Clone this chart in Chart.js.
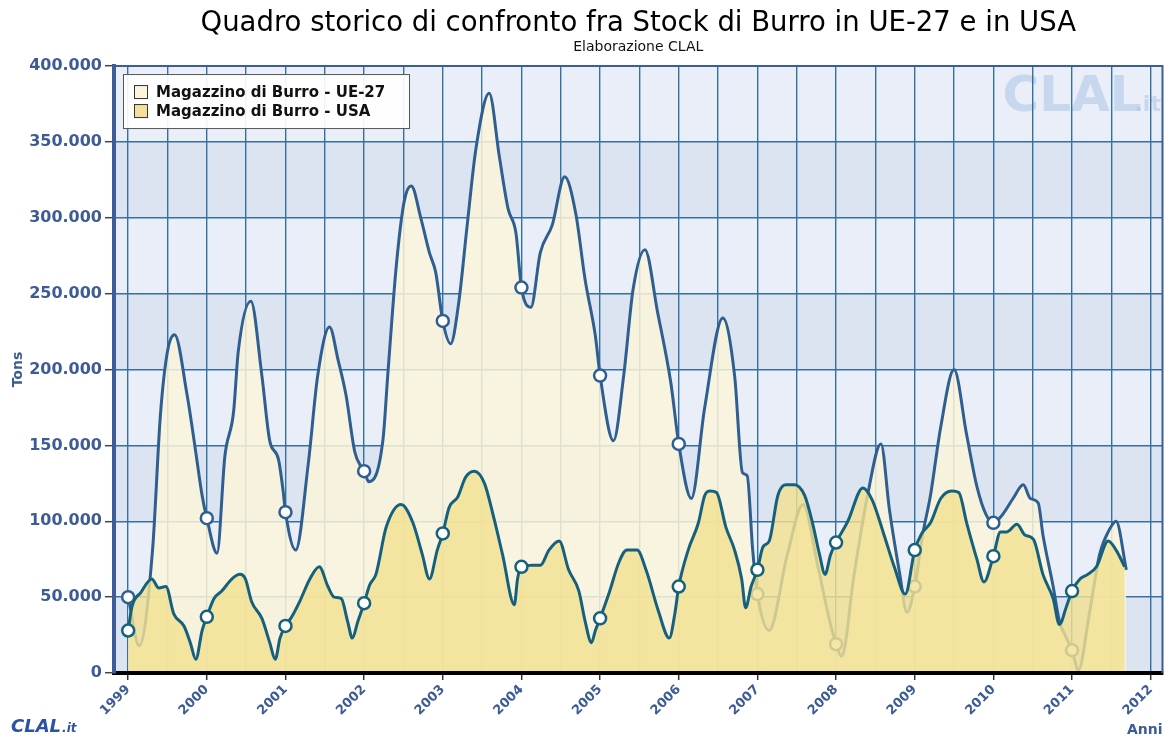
<!DOCTYPE html>
<html>
<head>
<meta charset="utf-8">
<script src="https://cdn.jsdelivr.net/npm/chart.js@4.4.1/dist/chart.umd.min.js"></script>
<style>
html,body{margin:0;padding:0;background:#ffffff;}
#wrap{width:1171px;height:739px;position:relative;}
</style>
</head>
<body>
<div id="wrap"><canvas id="c"></canvas></div>
<script>
const chartTitle = 'Quadro storico di confronto fra Stock di Burro in UE-27 e in USA';
const chartSubtitle = 'Elaborazione CLAL';
const seriesNames = ['Magazzino di Burro - UE-27', 'Magazzino di Burro - USA'];
const yAxisTitle = 'Tons';
const xAxisTitle = 'Anni';
const yearTicks = [1999, 2000, 2001, 2002, 2003, 2004, 2005, 2006, 2007, 2008, 2009, 2010, 2011, 2012];
const valueTicks = [0, 50000, 100000, 150000, 200000, 250000, 300000, 350000, 400000];

// UE-27 butter stocks (tons) at decimal-year positions
const ueDates = [
  1999.00, 1999.14, 1999.31, 1999.41, 1999.50, 1999.59, 1999.75, 1999.85, 1999.94,
  2000.00, 2000.13, 2000.23, 2000.34, 2000.40, 2000.56, 2000.70, 2000.80, 2000.91, 2000.97,
  2001.00, 2001.13, 2001.29, 2001.41, 2001.56, 2001.67, 2001.77, 2001.88, 2001.96,
  2002.00, 2002.06, 2002.24, 2002.30, 2002.41, 2002.51, 2002.60, 2002.72, 2002.83, 2002.91,
  2003.00, 2003.10, 2003.20, 2003.31, 2003.42, 2003.59, 2003.72, 2003.83, 2003.93,
  2004.00, 2004.12, 2004.24, 2004.39, 2004.55, 2004.69, 2004.81, 2004.94,
  2005.00, 2005.17, 2005.30, 2005.42, 2005.57, 2005.73, 2005.90,
  2006.00, 2006.16, 2006.33, 2006.56, 2006.71, 2006.81, 2006.87, 2006.94,
  2007.00, 2007.15, 2007.38, 2007.58, 2007.77, 2007.92,
  2008.00, 2008.07, 2008.23, 2008.40, 2008.57, 2008.68, 2008.81, 2008.90,
  2009.00, 2009.10, 2009.20, 2009.33, 2009.50, 2009.66, 2009.79, 2009.91,
  2010.00, 2010.11, 2010.25, 2010.38, 2010.47, 2010.57, 2010.63, 2010.76, 2010.84, 2010.93,
  2011.00, 2011.08, 2011.22, 2011.35, 2011.48, 2011.56, 2011.69
];
const ueStock = [
  50000, 18000, 81000, 170000, 212000, 223000, 183000, 149000, 117000,
  102000, 79000, 143000, 172000, 212000, 245000, 196000, 153000, 141000, 120000,
  106000, 81000, 138000, 196000, 228000, 206000, 183000, 146000, 136000,
  133000, 126000, 154000, 196000, 269000, 311000, 321000, 300000, 277000, 264000,
  232000, 217000, 243000, 295000, 345000, 382000, 340000, 306000, 290000,
  254000, 241000, 277000, 295000, 327000, 303000, 259000, 222000,
  196000, 153000, 196000, 253000, 279000, 238000, 191000,
  151000, 115000, 175000, 234000, 196000, 132000, 130000, 81000,
  52000, 28000, 78000, 111000, 70000, 34000,
  19000, 11000, 65000, 117000, 151000, 107000, 65000, 40000,
  57000, 91000, 117000, 162000, 200000, 157000, 123000, 104000,
  99000, 104000, 115000, 124000, 115000, 112000, 91000, 57000, 34000, 23000,
  15000, 2000, 39000, 78000, 95000, 100000, 68000
];

// USA butter stocks (tons)
const usaDates = [
  1999.00, 1999.05, 1999.16, 1999.30, 1999.39, 1999.48, 1999.58, 1999.71, 1999.79, 1999.86, 1999.94,
  2000.00, 2000.09, 2000.19, 2000.32, 2000.42, 2000.49, 2000.57, 2000.70, 2000.80, 2000.87, 2000.93,
  2001.00, 2001.08, 2001.18, 2001.31, 2001.43, 2001.54, 2001.62, 2001.71, 2001.79, 2001.85, 2001.92,
  2002.00, 2002.07, 2002.15, 2002.28, 2002.47, 2002.62, 2002.74, 2002.83, 2002.93,
  2003.00, 2003.08, 2003.19, 2003.29, 2003.40, 2003.53, 2003.65, 2003.76, 2003.91, 2003.95,
  2004.00, 2004.14, 2004.24, 2004.35, 2004.48, 2004.60, 2004.73, 2004.81, 2004.89, 2004.94,
  2005.00, 2005.11, 2005.24, 2005.34, 2005.47, 2005.59, 2005.74, 2005.88, 2005.95,
  2006.00, 2006.12, 2006.25, 2006.33, 2006.40, 2006.48, 2006.60, 2006.71, 2006.80, 2006.85, 2006.92,
  2007.00, 2007.07, 2007.15, 2007.26, 2007.36, 2007.47, 2007.60, 2007.70, 2007.79, 2007.86, 2007.93,
  2008.00, 2008.15, 2008.34, 2008.46, 2008.61, 2008.74, 2008.88,
  2009.00, 2009.09, 2009.20, 2009.33, 2009.47, 2009.56, 2009.66, 2009.79, 2009.88,
  2010.00, 2010.09, 2010.17, 2010.30, 2010.40, 2010.51, 2010.63, 2010.76, 2010.84, 2010.93,
  2011.00, 2011.10, 2011.20, 2011.31, 2011.46, 2011.56, 2011.67
];
const usaStock = [
  28000, 44000, 53000, 62000, 56000, 57000, 39000, 31000, 20000, 9000, 28000,
  37000, 49000, 54000, 62000, 65000, 62000, 47000, 36000, 20000, 9000, 23000,
  31000, 37000, 47000, 62000, 70000, 57000, 50000, 49000, 34000, 23000, 34000,
  46000, 58000, 65000, 96000, 111000, 99000, 78000, 62000, 81000,
  92000, 109000, 116000, 129000, 133000, 125000, 102000, 78000, 45000, 62000,
  70000, 71000, 71000, 81000, 87000, 68000, 54000, 34000, 20000, 28000,
  36000, 52000, 73000, 81000, 81000, 67000, 41000, 23000, 39000,
  57000, 81000, 99000, 117000, 120000, 119000, 96000, 81000, 62000, 43000, 57000,
  68000, 83000, 87000, 117000, 124000, 124000, 117000, 99000, 78000, 65000, 78000,
  86000, 100000, 122000, 114000, 91000, 70000, 52000,
  81000, 92000, 99000, 115000, 120000, 119000, 99000, 75000, 60000,
  77000, 93000, 93000, 98000, 91000, 88000, 65000, 49000, 32000, 44000,
  54000, 62000, 65000, 70000, 87000, 81000, 70000
];

const AXIS_BLUE = '#3d5b94';
const GRID_BLUE = '#3470a2';
const FONT = '"DejaVu Sans", Verdana, sans-serif';
Chart.defaults.font.family = FONT;

const fmtIt = v => String(v).replace(/\B(?=(\d{3})+(?!\d))/g, '.');
const toPoints = (xs, ys) => xs.map((x, i) => ({ x: x, y: ys[i] }));
const markerRadius = ctx => (ctx.raw && Number.isInteger(ctx.raw.x)) ? 6 : 0;

const ueColors = { line: '#2f5f90', fill: 'rgba(250,244,218,0.85)', legend: '#fbf5dc' };
const usaColors = { line: '#15617d', fill: 'rgba(242,225,145,0.82)', legend: '#f3e09a' };

const backgroundPlugin = {
  id: 'bands',
  beforeDraw(chart) {
    const { ctx, chartArea: a, scales } = chart;
    const ys = scales.y;
    ctx.save();
    for (let i = 0; i < valueTicks.length - 1; i++) {
      const y1 = ys.getPixelForValue(valueTicks[i]);
      const y2 = ys.getPixelForValue(valueTicks[i + 1]);
      ctx.fillStyle = (i % 2 === 0) ? '#dce3f1' : '#e9eef8';
      ctx.fillRect(a.left, y2, a.right - a.left, y1 - y2);
    }
    // watermark
    ctx.fillStyle = 'rgba(172,196,230,0.55)';
    ctx.textBaseline = 'alphabetic';
    ctx.textAlign = 'left';
    ctx.font = 'bold 50px ' + FONT;
    ctx.fillText('CLAL', a.right - 160, a.top + 45);
    ctx.font = 'bold 22px ' + FONT;
    ctx.fillText('.it', a.right - 28, a.top + 45);
    ctx.restore();
  }
};

const overlayPlugin = {
  id: 'overlay',
  afterDraw(chart) {
    const { ctx, chartArea: a } = chart;
    ctx.save();
    // top and right frame
    ctx.strokeStyle = '#3d5c9c';
    ctx.lineWidth = 2;
    ctx.beginPath();
    ctx.moveTo(a.left, a.top);
    ctx.lineTo(a.right, a.top);
    ctx.lineTo(a.right, a.bottom);
    ctx.stroke();
    // legend
    const bx = a.left + 9, by = a.top + 8, bw = 286, bh = 54;
    ctx.fillStyle = 'rgba(255,255,255,0.92)';
    ctx.fillRect(bx, by, bw, bh);
    ctx.strokeStyle = '#555';
    ctx.lineWidth = 1;
    ctx.strokeRect(bx + 0.5, by + 0.5, bw, bh);
    const legendFills = [ueColors.legend, usaColors.legend];
    ctx.font = 'bold 15px ' + FONT;
    ctx.textBaseline = 'middle';
    ctx.textAlign = 'left';
    seriesNames.forEach((name, i) => {
      const cy = by + 18 + i * 19;
      ctx.fillStyle = legendFills[i];
      ctx.fillRect(bx + 11, cy - 7, 14, 14);
      ctx.strokeStyle = '#333';
      ctx.strokeRect(bx + 11.5, cy - 6.5, 13, 13);
      ctx.fillStyle = '#111';
      ctx.fillText(name, bx + 33, cy + 1);
    });
    // logo bottom-left
    ctx.fillStyle = '#2d52a3';
    ctx.textBaseline = 'alphabetic';
    ctx.font = 'italic bold 18px ' + FONT;
    ctx.fillText('CLAL', 11, 732);
    const w = ctx.measureText('CLAL').width;
    ctx.font = 'italic bold 12px ' + FONT;
    ctx.fillText('.it', 11 + w + 1, 732);
    ctx.restore();
  }
};

new Chart(document.getElementById('c'), {
  type: 'line',
  data: {
    datasets: [
      {
        label: seriesNames[0],
        data: toPoints(ueDates, ueStock),
        borderColor: ueColors.line,
        backgroundColor: ueColors.fill,
        borderWidth: 3,
        fill: 'origin',
        cubicInterpolationMode: 'monotone',
        pointRadius: markerRadius,
        pointHoverRadius: markerRadius,
        pointBackgroundColor: '#ffffff',
        pointBorderColor: ueColors.line,
        pointBorderWidth: 2.5,
        order: 2
      },
      {
        label: seriesNames[1],
        data: toPoints(usaDates, usaStock),
        borderColor: usaColors.line,
        backgroundColor: usaColors.fill,
        borderWidth: 3,
        fill: 'origin',
        cubicInterpolationMode: 'monotone',
        pointRadius: markerRadius,
        pointHoverRadius: markerRadius,
        pointBackgroundColor: '#ffffff',
        pointBorderColor: usaColors.line,
        pointBorderWidth: 2.5,
        order: 1
      }
    ]
  },
  options: {
    responsive: true,
    maintainAspectRatio: false,
    animation: false,
    events: [],
    layout: { padding: { top: 0, right: 4, bottom: 0, left: 0 } },
    plugins: {
      legend: { display: false },
      tooltip: { enabled: false },
      title: {
        display: true, text: chartTitle, fullSize: false, color: '#000',
        font: { family: FONT, size: 27.5, weight: 'normal', lineHeight: 1.1 },
        padding: { top: 9, bottom: 0 }
      },
      subtitle: {
        display: true, text: chartSubtitle, fullSize: false, color: '#111',
        font: { family: FONT, size: 14, weight: 'normal', lineHeight: 1.2 },
        padding: { top: 0, bottom: 10 }
      }
    },
    scales: {
      x: {
        type: 'linear',
        min: 1998.82,
        max: 2012.15,
        afterBuildTicks: s => {
          const t = [];
          yearTicks.forEach((y, i) => { t.push({ value: y }); if (i < yearTicks.length - 1) t.push({ value: y + 0.5 }); });
          s.ticks = t;
        },
        afterFit: s => { s.height = 66; },
        ticks: {
          autoSkip: false, minRotation: 45, maxRotation: 45, padding: 2,
          color: AXIS_BLUE, font: { size: 13, weight: 'bold' },
          callback: v => Number.isInteger(v) ? String(v) : ''
        },
        grid: {
          color: GRID_BLUE, lineWidth: 1.4, tickLength: 7, tickWidth: 1.5,
          tickColor: c => (c.tick && Number.isInteger(c.tick.value)) ? '#333' : 'rgba(0,0,0,0)'
        },
        border: { color: '#000000', width: 4, z: 1 },
        title: {
          display: true, text: xAxisTitle, align: 'end', color: AXIS_BLUE,
          font: { size: 14, weight: 'bold' }, padding: { top: 0, bottom: 0 }
        }
      },
      y: {
        min: 0,
        max: 400000,
        afterBuildTicks: s => { s.ticks = valueTicks.map(v => ({ value: v })); },
        afterFit: s => { s.width = 114; },
        ticks: {
          color: AXIS_BLUE, font: { size: 16, weight: 'bold' }, padding: 3,
          callback: v => fmtIt(v)
        },
        grid: { color: GRID_BLUE, lineWidth: 1.4, tickLength: 9, tickColor: '#444', tickWidth: 1.5 },
        border: { color: '#3d5c9c', width: 4, z: 1 },
        title: {
          display: true, text: yAxisTitle, color: AXIS_BLUE,
          font: { size: 14, weight: 'bold' }, padding: { top: 10, bottom: 0 }
        }
      }
    }
  },
  plugins: [backgroundPlugin, overlayPlugin]
});
</script>
</body>
</html>
